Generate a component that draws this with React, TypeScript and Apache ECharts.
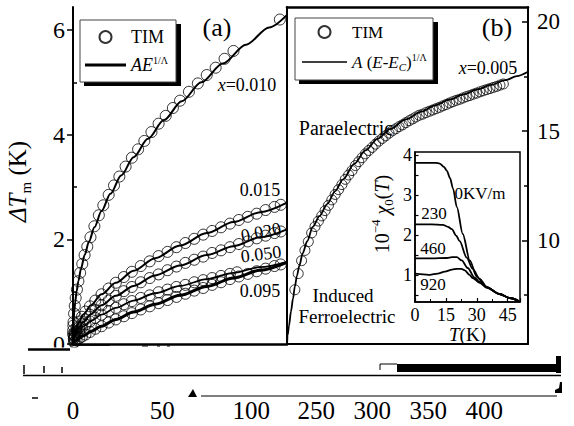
import React, { useEffect, useRef } from 'react';
import * as echarts from 'echarts';

const FONT = 'Liberation Serif';

// ---------- Panel (a): E (x) and ΔTm (y) ----------
const eA010 = [0.05, 0.1, 0.2, 0.3, 0.6, 1.0, 1.5, 2.2, 3.0, 4.0, 5.2, 6.5, 8.0, 9.8, 12, 14.5, 17, 20, 23, 26, 29.5, 33, 36.5, 40, 44, 48, 52, 56, 60, 65, 70, 75, 80, 85, 90, 116];
const tA010 = [0.19, 0.26, 0.35, 0.42, 0.58, 0.73, 0.88, 1.04, 1.2, 1.36, 1.53, 1.7, 1.86, 2.04, 2.25, 2.46, 2.65, 2.85, 3.03, 3.2, 3.39, 3.56, 3.72, 3.88, 4.05, 4.21, 4.36, 4.51, 4.65, 4.82, 4.98, 5.14, 5.28, 5.45, 5.6, 6.2];

const eA = [0.5, 1, 2, 3.5, 5, 7, 9.5, 12.5, 16, 20, 24, 28.5, 33, 38, 43, 48, 53, 58, 63, 68, 73, 78, 83, 88, 93, 98, 103, 108, 113, 116.5];
const tA015 = [0.16, 0.22, 0.32, 0.43, 0.52, 0.62, 0.72, 0.83, 0.95, 1.06, 1.17, 1.28, 1.38, 1.49, 1.58, 1.68, 1.76, 1.85, 1.93, 2.01, 2.09, 2.16, 2.23, 2.3, 2.37, 2.43, 2.49, 2.56, 2.62, 2.66];
const tA020 = [0.11, 0.17, 0.24, 0.32, 0.39, 0.47, 0.56, 0.65, 0.74, 0.83, 0.92, 1.01, 1.09, 1.18, 1.26, 1.33, 1.41, 1.48, 1.55, 1.61, 1.67, 1.74, 1.79, 1.85, 1.91, 1.96, 2.02, 2.07, 2.12, 2.15];
const eA050 = [0.5, 1, 2, 3.5, 5, 7, 9.5, 12.5, 16, 20, 24, 28.5, 33, 38, 43, 48, 53, 58, 63, 68, 73, 78, 83, 88, 92];
const tA050 = [0.1, 0.14, 0.2, 0.26, 0.31, 0.37, 0.43, 0.5, 0.56, 0.63, 0.69, 0.76, 0.82, 0.88, 0.93, 0.99, 1.04, 1.09, 1.13, 1.18, 1.22, 1.26, 1.3, 1.34, 1.37];
const tA095 = [0.03, 0.04, 0.07, 0.11, 0.14, 0.18, 0.23, 0.29, 0.34, 0.41, 0.47, 0.53, 0.59, 0.66, 0.72, 0.78, 0.84, 0.9, 0.96, 1.02, 1.07, 1.13, 1.18, 1.24, 1.29, 1.34, 1.39, 1.44, 1.49, 1.52];

const eFit010 = [0, 0.3, 0.7, 1.2, 2, 3, 4.5, 6.5, 9, 12, 16, 21, 27, 34, 42, 51, 61, 72, 84, 97, 110, 120];
const fA010 = [0, 0.42, 0.62, 0.79, 1.0, 1.2, 1.44, 1.7, 1.96, 2.23, 2.54, 2.87, 3.22, 3.57, 3.92, 4.28, 4.64, 5.0, 5.36, 5.72, 6.05, 6.29];
const eFit = [0, 0.5, 1.5, 3, 6, 10, 16, 24, 34, 46, 60, 75, 90, 105, 120];
const fA015 = [0, 0.16, 0.28, 0.4, 0.57, 0.74, 0.95, 1.17, 1.4, 1.64, 1.88, 2.12, 2.33, 2.52, 2.7];
const fA020 = [0, 0.11, 0.21, 0.3, 0.43, 0.57, 0.74, 0.92, 1.11, 1.31, 1.5, 1.7, 1.87, 2.04, 2.19];
const fA050 = [0, 0.1, 0.17, 0.24, 0.34, 0.44, 0.56, 0.69, 0.83, 0.97, 1.11, 1.24, 1.36, 1.47, 1.57];
const fA095 = [0, 0.03, 0.06, 0.1, 0.16, 0.24, 0.34, 0.47, 0.61, 0.76, 0.93, 1.1, 1.26, 1.41, 1.56];

const ticksAx = [0, 50, 100];
const ticksAy = [0, 2, 4, 6];
const minorAy = [1, 3, 5];

// ---------- Panel (b) ----------
const eB = [231, 234, 237, 240, 243, 246, 249, 252, 255, 258, 261, 264, 267, 270, 273, 276, 279, 282, 285, 288, 291, 294, 297, 300, 303, 306, 309, 312, 315, 318, 321, 324, 327, 330, 333, 336, 339, 342, 345, 348, 351, 354, 357, 360, 363, 366, 369, 372, 375, 378, 381, 384, 387, 390, 393, 396, 399, 402, 405, 408, 411, 414, 417];
const tB = [7.75, 8.49, 9.08, 9.55, 9.95, 10.35, 10.64, 10.89, 11.13, 11.37, 11.61, 11.86, 12.11, 12.33, 12.56, 12.8, 13.0, 13.2, 13.43, 13.61, 13.79, 13.97, 14.12, 14.26, 14.41, 14.55, 14.67, 14.79, 14.91, 15.02, 15.11, 15.21, 15.29, 15.39, 15.48, 15.56, 15.65, 15.73, 15.78, 15.85, 15.91, 15.97, 16.03, 16.09, 16.16, 16.22, 16.29, 16.35, 16.41, 16.46, 16.52, 16.58, 16.63, 16.69, 16.74, 16.8, 16.85, 16.9, 16.95, 17.0, 17.05, 17.11, 17.16];
const eBFit = [224, 224.5, 225.8, 227.5, 229.4, 231, 232.9, 235, 238, 242, 247, 253, 260, 267, 274, 284, 294, 305, 316, 330, 344, 356, 369, 381, 394, 406, 419, 429, 439];
const fB = [5.2, 5.65, 6.1, 6.75, 7.35, 7.9, 8.4, 8.85, 9.42, 9.97, 10.63, 11.12, 11.68, 12.26, 12.8, 13.51, 14.12, 14.66, 15.1, 15.54, 15.9, 16.18, 16.44, 16.67, 16.91, 17.12, 17.34, 17.52, 17.72];
const ticksBx = [250, 300, 350, 400];
const ticksBy = [10, 15, 20];
const minorBy = [7.5, 12.5, 17.5];

// ---------- Inset: T (K) and 10^-4 χ0(T) ----------
const tIn0 = [0, 5, 10, 12, 14, 15.5, 17, 18.5, 20.3, 23.2, 26.6, 30, 34.8, 41, 46, 50.5];
const c0 = [3.8, 3.8, 3.8, 3.78, 3.7, 3.6, 3.42, 3.15, 2.7, 2.02, 1.36, 0.95, 0.68, 0.52, 0.42, 0.34];
const tIn230 = [0, 8, 13.5, 16, 17.9, 20, 21.7, 25.1, 28, 31.4, 34.8, 41, 46, 50.5];
const c230 = [2.26, 2.26, 2.25, 2.2, 2.14, 1.98, 1.84, 1.43, 1.15, 0.9, 0.7, 0.52, 0.42, 0.34];
const tIn460 = [0, 8, 15.5, 18, 20.3, 22.7, 25.6, 29, 31.4, 34.8, 41, 46, 50.5];
const c460 = [1.41, 1.41, 1.42, 1.44, 1.44, 1.36, 1.17, 0.93, 0.82, 0.69, 0.52, 0.42, 0.34];
const tIn920 = [0, 4, 7.2, 11, 14.5, 18, 20.3, 22.5, 24.2, 26.5, 28, 31.4, 34.8, 41, 46, 50.5];
const c920 = [1.03, 1.01, 1.0, 1.03, 1.08, 1.13, 1.15, 1.15, 1.11, 1.0, 0.92, 0.8, 0.68, 0.52, 0.42, 0.34];
const ticksInX = [0, 15, 30, 45];
const ticksInY = [1, 2, 3, 4];
const minorInY = [0.5, 1, 1.5, 2, 2.5, 3, 3.5, 4];

const zip = (xs: number[], ys: number[]) => xs.map((x, i) => [x, ys[i]]);

const circleStyle = { color: 'rgba(0,0,0,0)', borderColor: '#000', borderWidth: 1 };
const lbl = (size: number) => ({ color: '#000', fontFamily: FONT, fontSize: size });
const serifLabel = (size: number, values: number[], margin: number) => ({
  customValues: values, margin, ...lbl(size),
  formatter: (v: number) => `{n|${v}}`,
  rich: { n: { fontFamily: FONT, fontSize: size, color: '#000' } },
});

function scatterA(data: number[][]) {
  return { name: 'TIM', type: 'scatter', xAxisIndex: 0, yAxisIndex: 0, symbol: 'circle', symbolSize: 11, itemStyle: circleStyle, data, z: 2 };
}
function lineA(data: number[][], width = 2) {
  return { name: 'AE', type: 'line', xAxisIndex: 0, yAxisIndex: 0, symbol: 'none', smooth: 0.3, smoothMonotone: 'x', lineStyle: { color: '#000', width }, itemStyle: { color: '#000' }, data, z: 3 };
}
function lineIn(data: number[][]) {
  return { name: 'inset', type: 'line', xAxisIndex: 4, yAxisIndex: 5, symbol: 'none', smooth: 0.3, smoothMonotone: 'x', lineStyle: { color: '#000', width: 1.8 }, data, z: 3 };
}

function txt(text: string, x: number, y: number, size: number, extra: any = {}) {
  return {
    type: 'text', x, y, z: 6, rotation: extra.rotation || 0,
    style: {
      text, x: 0, y: 0, font: `${size}px ${FONT}`, fill: '#000',
      align: 'center', verticalAlign: 'middle', textAlign: 'center', textVerticalAlign: 'middle',
      rich: { i: { fontStyle: 'italic', fontFamily: FONT, fontSize: size } },
    },
  };
}
const ln = (x1: number, y1: number, x2: number, y2: number, w: number) => ({ type: 'line', z: 11, shape: { x1, y1, x2, y2 }, style: { stroke: '#000', lineWidth: w } });

export default function App() {
  const ref = useRef<HTMLDivElement>(null);
  useEffect(() => {
    if (!ref.current) return;
    const chart = echarts.init(ref.current, undefined, { renderer: 'svg' });
    const option: any = {
      animation: false,
      backgroundColor: '#fff',
      textStyle: { fontFamily: FONT },
      grid: [
        { left: 70, top: 7, width: 217, height: 337 },
        { left: 287, top: 7, width: 241, height: 337 },
        { left: 415, top: 152, width: 105, height: 150, show: true, backgroundColor: '#fff', borderColor: '#000', borderWidth: 1.5 },
      ],
      xAxis: [
        { gridIndex: 0, type: 'value', min: 0, max: 120, position: 'bottom', axisLine: { show: false }, axisTick: { show: false }, splitLine: { show: false }, axisLabel: serifLabel(25, ticksAx, 54) },
        { gridIndex: 0, type: 'value', min: 0, max: 120, position: 'top', axisLine: { show: true, lineStyle: { color: '#000', width: 2.5 } }, axisTick: { show: false }, axisLabel: { show: false }, splitLine: { show: false } },
        { gridIndex: 1, type: 'value', min: 224, max: 439, position: 'bottom', axisLine: { show: true, lineStyle: { color: '#000', width: 2 } }, axisTick: { show: false }, splitLine: { show: false }, axisLabel: serifLabel(25, ticksBx, 54) },
        { gridIndex: 1, type: 'value', min: 224, max: 439, position: 'top', axisLine: { show: true, lineStyle: { color: '#000', width: 2.5 } }, axisTick: { show: false }, axisLabel: { show: false }, splitLine: { show: false } },
        {
          gridIndex: 2, type: 'value', min: 0, max: 51, interval: 15, position: 'bottom',
          axisLine: { show: true, lineStyle: { color: '#000', width: 1.5 } },
          axisTick: { show: true, inside: true, length: 4, lineStyle: { color: '#000', width: 1.2 } },
          minorTick: { show: true, splitNumber: 2, length: 3, lineStyle: { color: '#000', width: 1 } },
          splitLine: { show: false }, minorSplitLine: { show: false },
          axisLabel: serifLabel(18, ticksInX, 4),
          name: '{i|T}(K)', nameLocation: 'middle', nameGap: 20,
          nameTextStyle: { ...lbl(19), rich: { i: { fontStyle: 'italic', fontFamily: FONT, fontSize: 19 } } },
        },
      ],
      yAxis: [
        {
          gridIndex: 0, type: 'value', min: 0, max: 6.44, position: 'left',
          axisLine: { show: true, lineStyle: { color: '#000', width: 2 } },
          axisTick: { show: true, customValues: ticksAy, length: 6, lineStyle: { color: '#000', width: 1.5 } },
          axisLabel: serifLabel(24, ticksAy, 8),
          splitLine: { show: false },
          name: '{i|ΔT}{sub|m} (K)', nameLocation: 'middle', nameRotate: 90, nameGap: 40,
          nameTextStyle: {
            ...lbl(25), lineHeight: 32, padding: [0, 12, 0, 0],
            rich: {
              i: { fontStyle: 'italic', fontFamily: FONT, fontSize: 25, lineHeight: 32 },
              sub: { fontFamily: FONT, fontSize: 15, lineHeight: 16, verticalAlign: 'bottom' },
            },
          },
        },
        { gridIndex: 0, type: 'value', min: 0, max: 6.44, position: 'left', axisLine: { show: false }, axisTick: { show: true, inside: true, customValues: minorAy, length: 4, lineStyle: { color: '#000', width: 1.5 } }, axisLabel: { show: false }, splitLine: { show: false } },
        { gridIndex: 0, type: 'value', min: 0, max: 6.44, position: 'right', axisLine: { show: true, lineStyle: { color: '#000', width: 2 } }, axisTick: { show: false }, axisLabel: { show: false }, splitLine: { show: false } },
        {
          gridIndex: 1, type: 'value', min: 5.27, max: 20.68, position: 'right',
          axisLine: { show: true, lineStyle: { color: '#000', width: 2 } },
          axisTick: { show: true, inside: true, customValues: ticksBy, length: 6, lineStyle: { color: '#000', width: 1.5 } },
          axisLabel: serifLabel(23, ticksBy, 9),
          splitLine: { show: false },
        },
        { gridIndex: 1, type: 'value', min: 5.27, max: 20.68, position: 'right', axisLine: { show: false }, axisTick: { show: true, inside: true, customValues: minorBy, length: 4, lineStyle: { color: '#000', width: 1.5 } }, axisLabel: { show: false }, splitLine: { show: false } },
        {
          gridIndex: 2, type: 'value', min: 0.32, max: 4.07, position: 'left',
          axisLine: { show: true, lineStyle: { color: '#000', width: 1.5 } },
          axisTick: { show: true, inside: true, customValues: minorInY, length: 3.5, lineStyle: { color: '#000', width: 1.2 } },
          axisLabel: serifLabel(18, ticksInY, 3),
          splitLine: { show: false },
          name: '10{sup|−4} {i|χ}{sub|0}({i|T})', nameLocation: 'middle', nameRotate: 90, nameGap: 20,
          nameTextStyle: {
            ...lbl(20), lineHeight: 26, padding: [0, 0, 0, 26],
            rich: {
              i: { fontStyle: 'italic', fontFamily: FONT, fontSize: 20, lineHeight: 26 },
              sup: { fontFamily: FONT, fontSize: 13, lineHeight: 12, verticalAlign: 'top' },
              sub: { fontFamily: FONT, fontSize: 13, lineHeight: 13, verticalAlign: 'bottom' },
            },
          },
        },
      ],
      legend: [
        {
          orient: 'vertical', left: 85, top: 27, itemWidth: 41, itemHeight: 12, itemGap: 8, padding: 0,
          data: [{ name: 'TIM' }, { name: 'AE', icon: 'path://M0,0L40,0L40,3L0,3Z' }], selectedMode: false,
          textStyle: {
            ...lbl(18), lineHeight: 20,
            rich: {
              n: { fontFamily: FONT, fontSize: 18, lineHeight: 20 },
              i: { fontStyle: 'italic', fontFamily: FONT, fontSize: 18, lineHeight: 20 },
              s: { fontFamily: FONT, fontSize: 10, lineHeight: 10, verticalAlign: 'top' },
            },
          },
          formatter: (n: string) => (n === 'AE' ? '{i|AE}{s|1/Λ}' : `{n|${n}}`),
        },
        {
          orient: 'vertical', left: 302, top: 22, itemWidth: 45, itemHeight: 12, itemGap: 10, padding: 0,
          data: [{ name: 'TIM' }, { name: 'AEc', icon: 'path://M0,0L45,0L45,1.6L0,1.6Z' }], selectedMode: false,
          textStyle: {
            ...lbl(17), lineHeight: 20,
            rich: {
              n: { fontFamily: FONT, fontSize: 17, lineHeight: 20 },
              i: { fontStyle: 'italic', fontFamily: FONT, fontSize: 17, lineHeight: 20 },
              sub: { fontStyle: 'italic', fontFamily: FONT, fontSize: 11, lineHeight: 11, verticalAlign: 'bottom' },
              s: { fontFamily: FONT, fontSize: 10, lineHeight: 10, verticalAlign: 'top' },
            },
          },
          formatter: (n: string) => (n === 'AEc' ? '{n|}{i|A} ({i|E}-{i|E}{sub|C}){s|1/Λ}' : `{n|${n}}`),
        },
      ],
      series: [
        scatterA(zip(eA010, tA010)),
        scatterA(zip(eA, tA015)),
        scatterA(zip(eA, tA020)),
        scatterA(zip(eA050, tA050)),
        scatterA(zip(eA, tA095)),
        lineA(zip(eFit010, fA010)),
        lineA(zip(eFit, fA015)),
        lineA(zip(eFit, fA020)),
        lineA(zip(eFit, fA050), 1.8),
        lineA(zip(eFit, fA095), 3),
        { name: 'TIM', type: 'scatter', xAxisIndex: 2, yAxisIndex: 3, symbol: 'circle', symbolSize: 10, itemStyle: circleStyle, data: zip(eB, tB), z: 2 },
        { name: 'AEc', type: 'line', xAxisIndex: 2, yAxisIndex: 3, symbol: 'none', smooth: 0.3, smoothMonotone: 'x', lineStyle: { color: '#000', width: 1.8 }, itemStyle: { color: '#000' }, data: zip(eBFit, fB), z: 3 },
        lineIn(zip(tIn0, c0)),
        lineIn(zip(tIn230, c230)),
        lineIn(zip(tIn460, c460)),
        lineIn(zip(tIn920, c920)),
      ],
      graphic: {
        elements: [
          { type: 'rect', z: 3, shape: { x: 84, y: 24, width: 97, height: 62 }, style: { fill: '#000' } },
          { type: 'rect', z: 3, shape: { x: 80, y: 20, width: 96, height: 62 }, style: { fill: '#fff', stroke: '#444', lineWidth: 1 } },
          { type: 'rect', z: 3, shape: { x: 299, y: 22, width: 139, height: 62 }, style: { fill: '#000' } },
          { type: 'rect', z: 3, shape: { x: 295, y: 18, width: 138, height: 62 }, style: { fill: '#fff', stroke: '#444', lineWidth: 1 } },
          txt('(a)', 217, 27, 26),
          txt('(b)', 497, 27, 26),
          txt('{i|x}=0.010', 247, 85, 18),
          txt('0.015', 260, 190, 18),
          txt('0.020', 261, 232, 18, { rotation: 0.2 }),
          txt('0.050', 261, 254, 18, { rotation: 0.12 }),
          txt('0.095', 260, 291, 18),
          txt('{i|x}=0.005', 488, 68, 18),
          txt('Paraelectric', 346, 128, 20),
          txt('Induced', 343, 295, 19),
          txt('Ferroelectric', 347, 316, 19),
          txt('0KV/m', 480, 193, 17),
          txt('230', 434, 213, 17),
          txt('460', 433, 248, 17),
          txt('920', 433, 284, 17),
          { type: 'rect', z: 10, shape: { x: 0, y: 347.5, width: 574, height: 12 }, style: { fill: '#fff' } },
          ln(70, 345, 110, 345, 1.5),
          ln(142, 346, 148, 346, 1),
          ln(157, 346, 160, 346, 1),
          ln(167, 346, 170, 346, 1),
          ln(28, 349.5, 70, 349.5, 2.5),
          ln(24, 365, 24, 374, 1.5),
          ln(44, 366, 44, 373, 1.5),
          ln(62, 367, 62, 373, 1.5),
          ln(23, 375.5, 561, 375.5, 1.5),
          { type: 'rect', z: 11, shape: { x: 397, y: 364, width: 160, height: 8 }, style: { fill: '#000' } },
          { type: 'rect', z: 11, shape: { x: 556, y: 356, width: 5, height: 17 }, style: { fill: '#000' } },
          { type: 'polyline', z: 11, shape: { points: [[380, 370], [380, 364], [397, 364]] }, style: { stroke: '#000', lineWidth: 1, fill: 'none' } },
          ln(201, 396, 557, 396, 1.2),
          { type: 'polygon', z: 11, shape: { points: [[188, 397], [193, 389], [197, 397]] }, style: { fill: '#000' } },
          ln(32, 398, 38, 398, 1.5),
          { type: 'polygon', z: 11, shape: { points: [[560, 382], [562, 382], [562, 393], [555, 393], [555, 390], [559, 388]] }, style: { fill: '#000' } },
        ],
      },
    };
    chart.setOption(option);
    return () => chart.dispose();
  }, []);
  return <div ref={ref} style={{ position: 'fixed', left: 0, top: 0, width: 574, height: 426, background: '#fff' }} />;
}
